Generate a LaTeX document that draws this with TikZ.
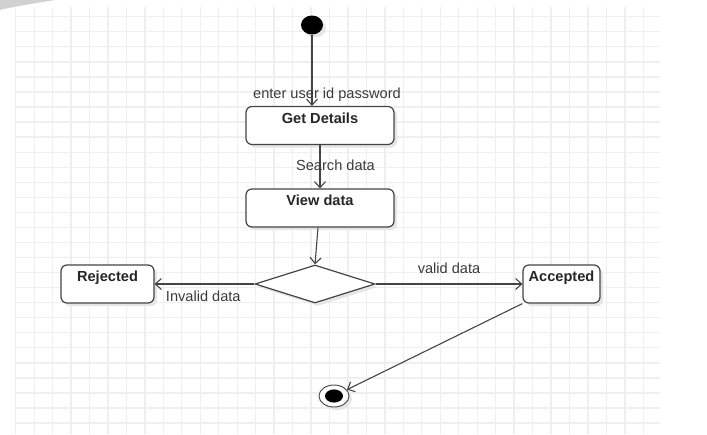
\documentclass[tikz,border=0pt]{standalone}
\usepackage{fontspec}
\setmainfont{Liberation Sans}
\usetikzlibrary{positioning,shapes.geometric,arrows.meta,shadows}

\definecolor{linecol}{HTML}{444444}
\definecolor{textcol}{HTML}{3A3A3A}
\definecolor{gridcol}{HTML}{EFEFEF}

\begin{document}
\begin{tikzpicture}[x=1pt, y=-1pt, >={Straight Barb[length=6pt,width=11pt]},
shade box/.style={drop shadow={shadow xshift=3pt, shadow yshift=-3pt, fill=black!10, opacity=1}},
act node/.style={draw=linecol, line width=1.2pt, rounded corners=6pt, fill=white, shade box,
  minimum height=38pt, inner xsep=0pt, inner ysep=0pt, text height=16.6pt, text depth=21.4pt,
  text=black!85, font=\fontsize{14.6pt}{17pt}\selectfont\bfseries},
dec node/.style={diamond, draw=linecol, line width=1.2pt, fill=white, shade box,
  minimum width=120pt, minimum height=38pt, inner sep=0pt},
start node/.style={ellipse, fill=black, shade box, minimum width=22pt, minimum height=19pt, inner sep=0pt},
final node/.style={ellipse, draw=linecol, line width=0.9pt, fill=white, shade box,
  minimum width=30pt, minimum height=22pt, inner sep=0pt,
  path picture={\fill[black] (path picture bounding box.center) ellipse [x radius=9pt, y radius=6.6pt];}},
lbl/.style={text=textcol, inner sep=0pt, font=\fontsize{14.6pt}{17pt}\selectfont},
gridline/.style={draw=gridcol, line width=1.3pt}]

\useasboundingbox (0,0) rectangle (707,434);

% background grid
\foreach \i in {0,...,34} \draw[gridline] ({15.7+18.46*\i},6.7) -- ({15.7+18.46*\i},434);
\foreach \j in {0,...,27} \draw[gridline] (15.7,{16.7+15.05*\j}) -- (660,{16.7+15.05*\j});
\fill[black!18] (0,0) -- (55,0) .. controls (30,4) and (12,7) .. (0,10) -- cycle;

\node[start node] (start) at (312,25) {};
\node[act node, minimum width=148pt] (gd) at (320,125.5) {Get Details};
\node[act node, minimum width=148pt] (vd) at (320,208) {View data};
\node[dec node] (dec) at (315,284) {};
\node[act node, minimum width=93pt] (rej) at (107.5,284) {Rejected};
\node[act node, minimum width=77pt] (acc) at (561.5,284) {Accepted};
\node[final node] (fin) at (334,396) {};

\path[every edge/.append style={draw=linecol, line width=1.1pt}]
(start) [->] edge node [lbl, pos=1, anchor=base, xshift=15pt, yshift=7.7pt] {enter user id password} (start |- gd.north)
(gd) [->] edge node [lbl, midway, anchor=base, xshift=15.5pt, yshift=-3.9pt] {Search data} (vd)
([xshift=-2pt]vd.south) [->] edge (dec.north)
(dec) [->] edge node [lbl, midway, anchor=base, xshift=-1.2pt, yshift=-17.7pt] {Invalid data} (rej)
(dec) [->] edge node [lbl, midway, anchor=base, yshift=10.7pt] {valid data} (acc)
(acc.south west) [->] edge (fin);
\end{tikzpicture}
\end{document}
